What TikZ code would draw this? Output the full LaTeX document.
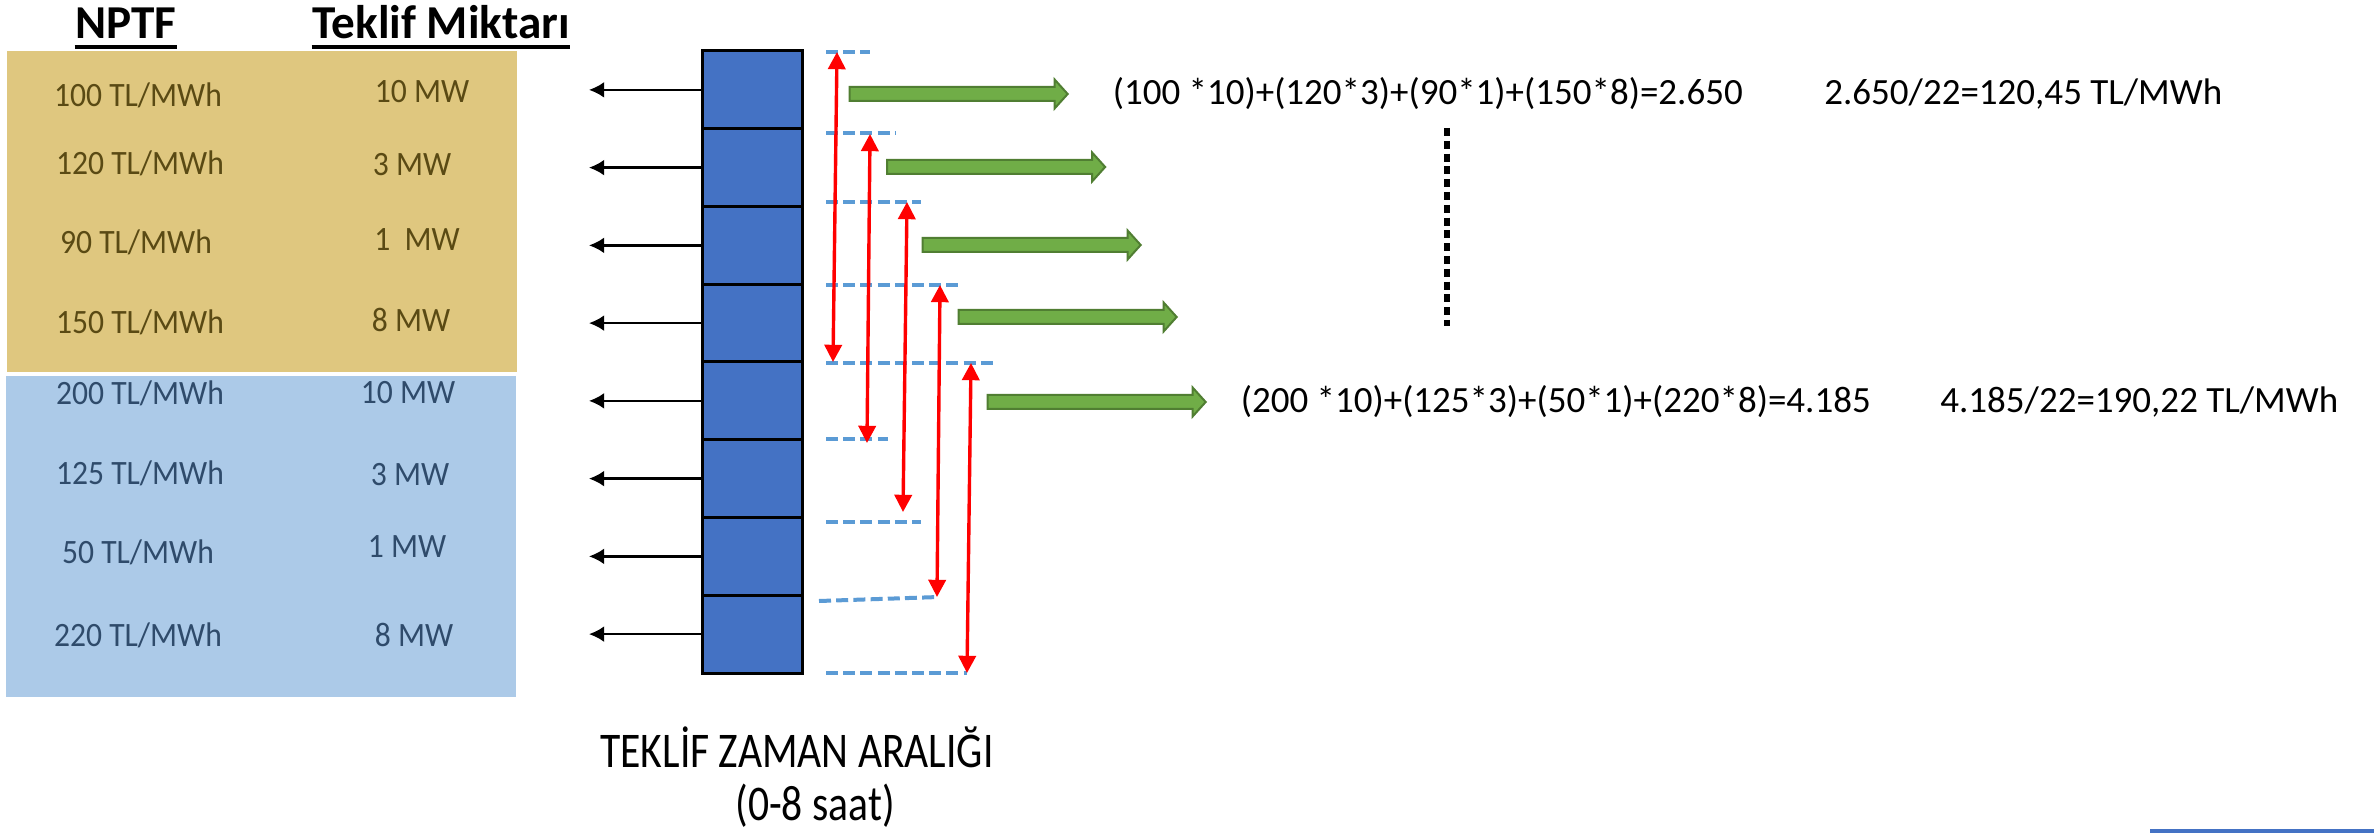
\documentclass[tikz,border=0pt]{standalone}
\usepackage{fontspec}
\setmainfont{Carlito}
\usetikzlibrary{arrows.meta, positioning, shapes.arrows}
\definecolor{my_tan}{RGB}{223, 199, 127}
\definecolor{my_paleblue}{RGB}{172, 202, 232}
\definecolor{my_brown}{RGB}{90, 74, 20}
\definecolor{my_slate}{RGB}{47, 75, 107}
\definecolor{my_cellblue}{RGB}{68, 114, 196}
\definecolor{my_dashblue}{RGB}{91, 155, 213}
\definecolor{my_green}{RGB}{112, 173, 71}
\definecolor{my_darkgreen}{RGB}{80, 126, 50}
\tikzset {
  header/.style = {font=\fontsize{11.8}{14}\selectfont\bfseries, inner sep=0, anchor=base},
  price/.style = {font=\fontsize{7.9}{9.5}\selectfont, inner sep=0},
  cell/.style = {draw, line width=0.75pt, fill=my_cellblue, minimum width=25pt, minimum height=19.44pt, inner sep=0, outer sep=0},
  leftline/.style = {->, >={Latex[length=3.8pt, width=4pt]}, line width=0.6pt, color=black},
  guide/.style = {my_dashblue, line width=1pt, dash pattern=on 3pt off 1.3pt},
  redspan/.style = {<->, >={Triangle[length=4.3pt, width=4.3pt]}, line width=0.85pt, color=red},
  greenblock/.style = {single arrow, draw=my_darkgreen, fill=my_green, line width=0.5pt, minimum height=54.5pt, inner xsep=0, inner ysep=1.5pt, single arrow head extend=1.875pt, single arrow tip angle=96},
  formula/.style = {font=\fontsize{9.25}{11}\selectfont, inner sep=0},
  zamantitle/.style = {font=\fontsize{10.4}{12.5}\selectfont, inner sep=0, anchor=base}
}

\begin{document}
\begin{tikzpicture}[x=0.25pt, y=-0.25pt]
  \useasboundingbox (0,0) rectangle (2374,833);
  \fill[white] (0,0) rectangle (2374,833);

  % price table
  \fill[my_tan] (7,51) rectangle (517,372);
  \fill[my_paleblue] (6,376) rectangle (516,697);

  \node[header] (nptf) at (126,39) {NPTF};
  \node[header] (miktar) at (441,39) {Teklif Miktarı};
  \foreach \h in {nptf, miktar}
    \draw[line width=0.8pt] ([yshift=-2pt]\h.base west) -- ([yshift=-2pt]\h.base east);

  \foreach \p/\a/\b/\m/\c/\d/\col [count=\i] in {
      100/138/95/10/422/92/my_brown, 120/140/163/3/412/165/my_brown,
      90/136/242/{1~}/417/240/my_brown, 150/140/322/8/411/320/my_brown,
      200/140/393/10/408/393/my_slate, 125/140/473/3/410/475/my_slate,
      50/138/552/1/407/547/my_slate, 220/138/635/8/414/635/my_slate} {
    \node[price, text=\col] (p\i) at (\a,\b) {\scalebox{1}[1.08]{\p~TL/MWh}};
    \node[price, text=\col] (m\i) at (\c,\d) {\scalebox{1}[1.08]{\m~MW}};
  }

  % time slots
  \foreach \i in {1,...,8}
    \node[cell] (c\i) at (752, {51+77.75*(\i-0.5)}) {};
  \coordinate (lefttip) at (589,0);
  \foreach \i in {1,...,8}
    \draw[leftline] (c\i.west) -- (c\i.west -| lefttip);

  \foreach \y/\e in {52/870, 133/896, 202/921, 285/961, 363/993, 439/888, 522/921, 673/967}
    \draw[guide] (826,\y) -- (\e,\y);
  \draw[guide] (819,601) -- (939,597);

  \foreach \i/\xt/\yt/\xb/\yb in {1/837/52/833/362, 2/870/134/867/443, 3/907/202/903/512,
      4/940/285/937/597, 5/971/363/967/673} {
    \coordinate (top\i) at (\xt,\yt);
    \coordinate (bot\i) at (\xb,\yb);
    \draw[redspan] (top\i) -- (bot\i);
  }

  \foreach \i/\x/\y in {1/955.5/94, 2/993/167, 3/1028.5/245, 4/1064.5/317, 5/1093.5/402}
    \node[greenblock] (g\i) at (\x,\y) {};

  % results
  \node[formula, right=10.75pt of g1] (sum1) {(100 *10)+(120*3)+(90*1)+(150*8)=2.650};
  \node[formula, right=20pt of sum1] (avg1) {2.650/22=120,45 TL/MWh};
  \node[formula, right=8.25pt of g5] (sum2) {(200 *10)+(125*3)+(50*1)+(220*8)=4.185};
  \node[formula, right=17pt of sum2] (avg2) {4.185/22=190,22 TL/MWh};

  \coordinate (dots_top) at (1447,128);
  \coordinate (dots_bot) at (1447,326);
  \draw[line width=1.6pt, dash pattern=on 2pt off 1.2pt] (dots_top) -- (dots_bot);

  \node[zamantitle] (zaman) at (797,767) {\scalebox{1}[1.2]{TEKLİF ZAMAN ARALIĞI}};
  \node[zamantitle] (saat) at (815,820) {\scalebox{1}[1.2]{(0-8 saat)}};

  \fill[my_cellblue] (2150,829) rectangle (2374,833);
\end{tikzpicture}
\end{document}
